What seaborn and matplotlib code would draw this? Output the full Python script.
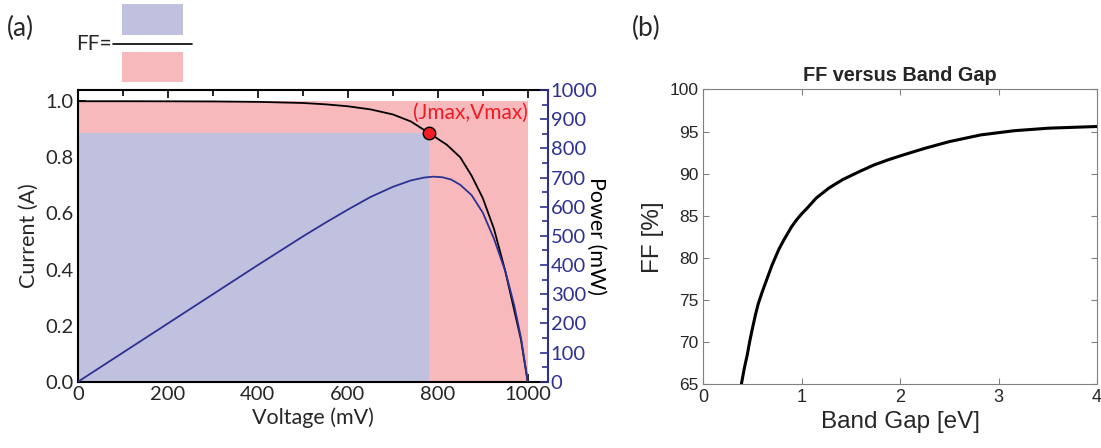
import numpy as np
import pandas as pd
import seaborn as sns
import matplotlib.pyplot as plt
from matplotlib.patches import Rectangle
from matplotlib.lines import Line2D
from matplotlib.ticker import MultipleLocator

# values
voltage_iv = [0, 100, 200, 300, 400, 500, 550, 600, 650, 700, 740, 781, 820, 850, 875, 900, 925, 950, 970, 985, 1000]
current = [1.0, 1.0, 0.9997, 0.9992, 0.9977, 0.9937, 0.989, 0.982, 0.971, 0.953, 0.928, 0.886,
           0.845, 0.80, 0.735, 0.655, 0.545, 0.395, 0.255, 0.15, 0.0]
voltage_p = [0, 100, 200, 300, 400, 500, 550, 600, 650, 700, 740, 770, 790, 810, 830, 850, 875,
             900, 925, 950, 970, 985, 1000]
power = [0, 100, 200, 300, 400, 498, 545, 590, 633, 668, 690, 700, 703, 701, 693, 675, 640,
         580, 490, 380, 262, 150, 0]
v_max, j_max = 781, 0.886
v_oc, i_sc = 1000, 1.0

band_gap = [0.39, 0.42, 0.45, 0.475, 0.50, 0.53, 0.56, 0.60, 0.65, 0.70, 0.77, 0.82, 0.86, 0.90,
            0.95, 1.0, 1.05, 1.15, 1.28, 1.42, 1.58, 1.73, 1.87, 2.0, 2.25, 2.5, 2.82, 3.16, 3.51, 4.0]
ff = [65.0, 66.9, 68.5, 70.1, 71.5, 73.1, 74.5, 75.9, 77.5, 79.1, 81.0, 82.1, 82.9, 83.7,
      84.5, 85.2, 85.8, 87.1, 88.3, 89.3, 90.2, 91.0, 91.6, 92.1, 93.0, 93.8, 94.6, 95.1, 95.4, 95.6]

sns.set_theme(style="ticks")
plt.rcParams['font.family'] = ['Lato', 'DejaVu Sans']

blue_fill = '#bfc1de'
pink_fill = '#f8b9bd'
navy = '#2e3192'
arial = ['Liberation Sans', 'DejaVu Sans']

fig = plt.figure(figsize=(11.01, 4.48), dpi=100)

##### panel (a): I-V and power curve
ax = fig.add_axes([0.0708, 0.1478, 0.4269, 0.6513])
ax.fill_between([0, v_oc], 0, i_sc, color=pink_fill, lw=0, zorder=1)
ax.fill_between([0, v_max], 0, j_max, color=blue_fill, lw=0, zorder=1)
sns.lineplot(x=voltage_iv, y=current, ax=ax, color='black', lw=1.3, sort=False, estimator=None, zorder=3)
ax.plot([v_max], [j_max], 'o', ms=9, mfc='#ee1c25', mec='black', mew=1.0, zorder=5)
ax.text(v_max - 36, 0.96, '(Jmax,Vmax)', color='#ee1c25', fontsize=15, va='center', ha='left')
ax.set_xlim(0, 1045)
ax.set_ylim(0, 1.04)
ax.xaxis.set_major_locator(MultipleLocator(200))
ax.xaxis.set_minor_locator(MultipleLocator(100))
ax.yaxis.set_major_locator(MultipleLocator(0.2))
ax.yaxis.set_minor_locator(MultipleLocator(0.1))
ax.yaxis.set_major_formatter(plt.FormatStrFormatter('%.1f'))
ax.tick_params(which='both', direction='in', top=True, right=False, labelsize=14.5, color='black', width=1.2, pad=3)
ax.tick_params(which='major', length=6)
ax.tick_params(which='minor', length=4)
ax.set_xlabel('Voltage (mV)', fontsize=15.5, labelpad=3)
ax.set_ylabel('Current (A)', fontsize=15.5, labelpad=5)
for s in ['left', 'bottom', 'top']:
    ax.spines[s].set_color('black')
    ax.spines[s].set_linewidth(1.5)
ax.spines['right'].set_visible(False)

ax_p = ax.twinx()
sns.lineplot(x=voltage_p, y=power, ax=ax_p, color=navy, lw=1.3, sort=False, estimator=None)
ax_p.set_ylim(0, 1000)
ax_p.yaxis.set_major_locator(MultipleLocator(100))
ax_p.yaxis.set_minor_locator(MultipleLocator(50))
ax_p.tick_params(which='both', direction='in', colors=navy, labelsize=14.5, width=1.2, pad=2)
ax_p.tick_params(which='major', length=6)
ax_p.tick_params(which='minor', length=4)
ax_p.set_ylabel('Power (mW)', fontsize=15.5, rotation=270, labelpad=6, color='black')
ax_p.spines['right'].set_color(navy)
ax_p.spines['right'].set_linewidth(1.5)
for s in ['left', 'bottom', 'top']:
    ax_p.spines[s].set_visible(False)

##### FF = blue / pink legend glyph
fig.text(76 / 1101, 1 - 44 / 448, 'FF=', fontsize=15, va='center', ha='left')
fig.add_artist(Line2D([113 / 1101, 192 / 1101], [1 - 44 / 448, 1 - 44 / 448], color='black', lw=1.2))
fig.add_artist(Rectangle((122 / 1101, 1 - 35 / 448), 61 / 1101, 31 / 448, color=blue_fill, lw=0))
fig.add_artist(Rectangle((122 / 1101, 1 - 82 / 448), 61 / 1101, 30 / 448, color=pink_fill, lw=0))

fig.text(7 / 1101, 1 - 28 / 448, '(a)', fontsize=19, va='center', ha='left')
fig.text(632 / 1101, 1 - 28 / 448, '(b)', fontsize=19, va='center', ha='left')

##### panel (b): FF versus band gap
ax2 = fig.add_axes([0.6385, 0.1429, 0.3579, 0.6574])
sns.lineplot(x=band_gap, y=ff, ax=ax2, color='black', lw=2.2, sort=False, estimator=None)
ax2.set_xlim(0, 4)
ax2.set_ylim(65, 100)
ax2.set_xticks([0, 1, 2, 3, 4])
ax2.set_yticks([65, 70, 75, 80, 85, 90, 95, 100])
ax2.tick_params(direction='in', top=True, right=True, length=4, color='#808080',
                labelcolor='#262626', width=0.8)
ax2.tick_params(axis='x', labelsize=13)
ax2.tick_params(axis='y', labelsize=12.5)
for lab in ax2.get_xticklabels() + ax2.get_yticklabels():
    lab.set_family(arial)
for s in ax2.spines.values():
    s.set_color('#808080')
    s.set_linewidth(0.8)
ax2.set_title('FF versus Band Gap', fontsize=14.3, fontweight='bold', family=arial, pad=6)
ax2.set_xlabel('Band Gap [eV]', fontsize=17.5, color='#262626', family=arial)
ax2.set_ylabel('FF [%]', fontsize=17.5, color='#262626', family=arial)

fig.savefig('out.png', dpi=100)
